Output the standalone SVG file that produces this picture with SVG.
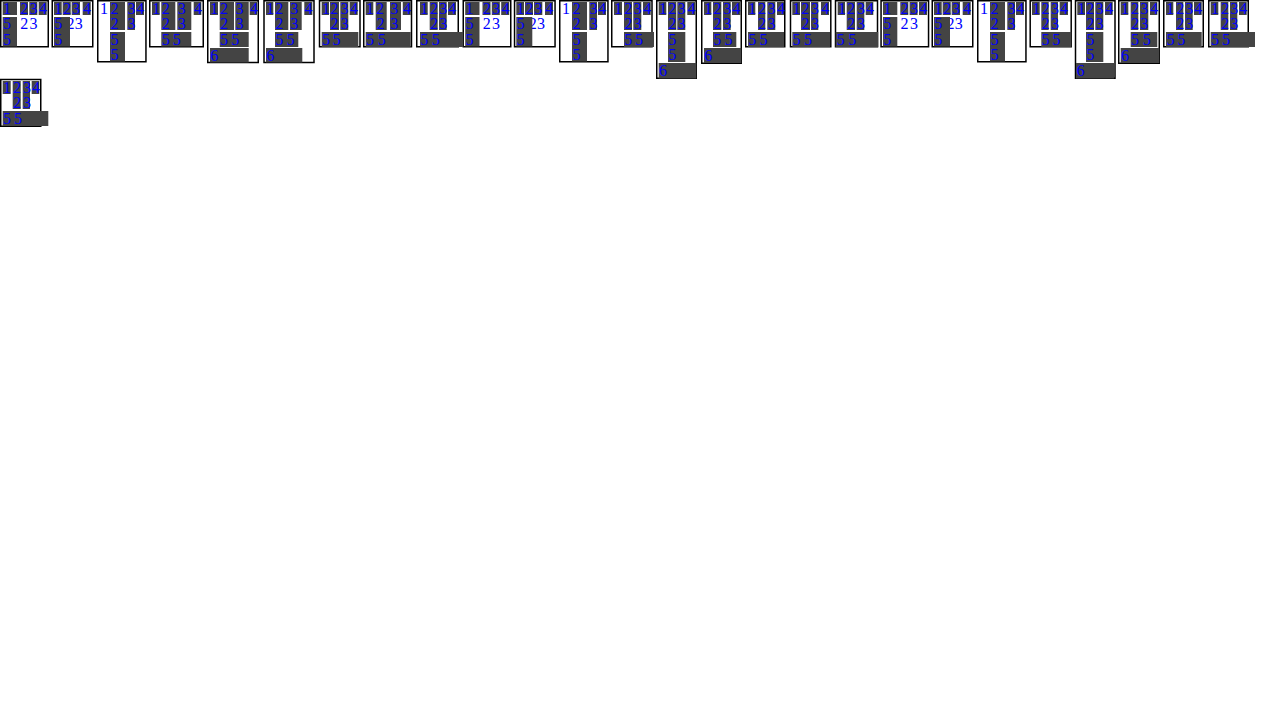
<svg xmlns="http://www.w3.org/2000/svg" width="1280" height="720" viewBox="0 0 1280 720">
<style>
.c{fill:#444}
.b{fill:none;stroke:#000;stroke-width:1.5}
text{font-family:"Liberation Serif","Times New Roman",serif;font-size:16px;fill:#00f}
</style>
<rect x="0" y="0" width="1280" height="720" fill="#fff"/>
<defs>
<g id="typeA">
<rect class="b" x="0.75" y="0.75" width="47.5" height="46"/>
<rect class="c" x="2.7" y="2" width="14.3" height="13"/>
<rect class="c" x="20" y="2" width="8" height="13"/>
<rect class="c" x="29.3" y="2" width="8" height="13"/>
<rect class="c" x="38.7" y="2" width="8" height="13"/>
<text x="20.3" y="29">2</text><text x="29.6" y="29">3</text>
<rect class="c" x="2.7" y="17" width="14.3" height="29.5"/>
<text x="3" y="14">1</text><text x="20.3" y="14">2</text><text x="29.6" y="14">3</text><text x="39" y="14">4</text>
<text x="3" y="29">5</text><text x="3" y="44.5">5</text>
</g>
<g id="typeB">
<rect class="b" x="52.25" y="0.75" width="40.5" height="46"/>
<rect class="c" x="54" y="2" width="7.7" height="13"/>
<rect class="c" x="62.7" y="2" width="8" height="13"/>
<rect class="c" x="71.7" y="2" width="8.3" height="13"/>
<rect class="c" x="82.7" y="2" width="8" height="13"/>
<text x="66.5" y="29">2</text><text x="74.8" y="29">3</text>
<rect class="c" x="54" y="17" width="16" height="29.5"/>
<text x="54.3" y="14">1</text><text x="63" y="14">2</text><text x="72" y="14">3</text><text x="83" y="14">4</text>
<text x="54.3" y="29">5</text><text x="54.3" y="44.5">5</text>
</g>
<g id="typeC">
<rect class="b" x="97.75" y="0.75" width="48.2" height="61"/>
<text x="100" y="14">1</text>
<rect class="c" x="110" y="2" width="15" height="28"/>
<rect class="c" x="110" y="32" width="15" height="29.5"/>
<rect class="c" x="127.3" y="2" width="7.7" height="28"/>
<rect class="c" x="136" y="2" width="8" height="13"/>
<text x="110.4" y="14">2</text><text x="110.4" y="29">2</text>
<text x="110.4" y="44.5">5</text><text x="110.4" y="60">5</text>
<text x="127.6" y="14">3</text><text x="127.6" y="29">3</text>
<text x="136.3" y="14">4</text>
</g>
</defs>

<g id="n1"><use href="#typeA"/></g>
<g id="n2"><use href="#typeB"/></g>
<g id="n3"><use href="#typeC"/></g>

<g id="n4">
<rect class="b" x="149.75" y="0.75" width="53.5" height="46"/>
<rect class="c" x="152" y="2" width="7.7" height="13"/>
<rect class="c" x="161.3" y="2" width="14" height="28"/>
<rect class="c" x="177.3" y="2" width="14" height="28"/>
<rect class="c" x="193.7" y="2" width="7.6" height="13"/>
<rect class="c" x="161.3" y="32" width="30" height="14.5"/>
<text x="152.3" y="14">1</text><text x="161.7" y="14">2</text><text x="161.7" y="29">2</text>
<text x="177.8" y="14">3</text><text x="177.8" y="29">3</text><text x="194" y="14">4</text>
<text x="161.7" y="44.5">5</text><text x="172.8" y="44.5">5</text>
</g>

<g id="n5">
<rect class="b" x="207.75" y="0.75" width="50.5" height="61.75"/>
<rect class="c" x="210" y="2" width="8" height="13"/>
<rect class="c" x="219.7" y="2" width="14.3" height="28"/>
<rect class="c" x="235.3" y="2" width="13.4" height="28"/>
<rect class="c" x="249.7" y="2" width="7.3" height="13"/>
<rect class="c" x="219.7" y="32" width="29" height="15"/>
<rect class="c" x="210" y="48" width="38.7" height="14.5"/>
<text x="210.3" y="14">1</text><text x="220" y="14">2</text><text x="220" y="29">2</text>
<text x="235.6" y="14">3</text><text x="235.6" y="29">3</text><text x="250" y="14">4</text>
<text x="220" y="44.5">5</text><text x="231.3" y="44.5">5</text>
<text x="210.3" y="61">6</text>
</g>

<g id="n6">
<rect class="b" x="264" y="0.75" width="50" height="61.75"/>
<rect class="c" x="266" y="2" width="7.3" height="13"/>
<rect class="c" x="275" y="2" width="13.3" height="28"/>
<rect class="c" x="290" y="2" width="11.7" height="28"/>
<rect class="c" x="304.3" y="2" width="8" height="13"/>
<rect class="c" x="275" y="32" width="23.3" height="15"/>
<rect class="c" x="266" y="48" width="36.3" height="14.5"/>
<text x="266.3" y="14">1</text><text x="275.3" y="14">2</text><text x="275.3" y="29">2</text>
<text x="290.3" y="14">3</text><text x="290.3" y="29">3</text><text x="304.6" y="14">4</text>
<text x="275.3" y="44.5">5</text><text x="286.5" y="44.5">5</text>
<text x="266.3" y="61">6</text>
</g>

<g id="n7">
<rect class="b" x="319.5" y="0.75" width="40.5" height="46"/>
<rect class="c" x="321.7" y="2" width="7.3" height="13"/>
<rect class="c" x="330" y="2" width="9" height="28"/>
<rect class="c" x="340.3" y="2" width="8" height="28"/>
<rect class="c" x="349.7" y="2" width="8" height="13"/>
<rect class="c" x="321.7" y="32" width="36.6" height="15"/>
<text x="322" y="14">1</text><text x="330.3" y="14">2</text><text x="330.3" y="29">2</text>
<text x="340.6" y="14">3</text><text x="340.6" y="29">3</text><text x="350" y="14">4</text>
<text x="322" y="44.5">5</text><text x="332.5" y="44.5">5</text>
</g>

<g id="n8">
<rect class="b" x="363.75" y="0.75" width="47.75" height="46"/>
<rect class="c" x="365.7" y="2" width="7.6" height="13"/>
<rect class="c" x="375.7" y="2" width="11" height="28"/>
<rect class="c" x="390" y="2" width="11" height="28"/>
<rect class="c" x="402.8" y="2" width="8" height="13"/>
<rect class="c" x="365.7" y="32" width="45" height="15"/>
<text x="366" y="14">1</text><text x="376" y="14">2</text><text x="376.5" y="29">2</text>
<text x="390.3" y="14">3</text><text x="390.3" y="29">3</text><text x="403" y="14">4</text>
<text x="366" y="44.5">5</text><text x="377.7" y="44.5">5</text>
</g>

<g id="n10"><use href="#typeA" transform="translate(462.5 0)"/></g>

<g id="n9">
<rect class="b" x="416.75" y="0.75" width="41.5" height="46"/>
<rect class="c" x="420" y="2" width="7.7" height="13"/>
<rect class="c" x="429.7" y="2" width="8" height="28"/>
<rect class="c" x="439" y="2" width="7.7" height="28"/>
<rect class="c" x="448" y="2" width="8" height="13"/>
<rect class="c" x="420" y="32" width="43.3" height="15"/>
<text x="420.3" y="14">1</text><text x="430" y="14">2</text><text x="430" y="29">2</text>
<text x="439.3" y="14">3</text><text x="439.3" y="29">3</text><text x="448.3" y="14">4</text>
<text x="420.3" y="44.5">5</text><text x="431.7" y="44.5">5</text>
</g>

<g id="n11"><use href="#typeB" transform="translate(462.3 0)"/></g>
<g id="n12"><use href="#typeC" transform="translate(462 0)"/></g>

<g id="n13">
<rect class="b" x="611.75" y="0.75" width="40.25" height="46"/>
<rect class="c" x="614" y="2" width="8" height="13"/>
<rect class="c" x="624" y="2" width="8" height="28"/>
<rect class="c" x="633.3" y="2" width="8" height="28"/>
<rect class="c" x="643" y="2" width="7.7" height="13"/>
<rect class="c" x="624" y="32" width="30" height="15"/>
<text x="614.3" y="14">1</text><text x="624.3" y="14">2</text><text x="624.3" y="29">2</text>
<text x="633.6" y="14">3</text><text x="633.6" y="29">3</text><text x="643.3" y="14">4</text>
<text x="624.3" y="44.5">5</text><text x="635" y="44.5">5</text>
</g>

<g id="n14">
<rect class="b" x="656.75" y="0.75" width="39.5" height="77.5"/>
<rect class="c" x="658.7" y="2" width="7.6" height="13"/>
<rect class="c" x="668" y="2" width="8.3" height="28"/>
<rect class="c" x="677.3" y="2" width="8" height="28"/>
<rect class="c" x="687.3" y="2" width="8" height="13"/>
<rect class="c" x="668" y="32" width="17.3" height="30"/>
<rect class="c" x="658.7" y="63" width="37.6" height="15.5"/>
<text x="659" y="14">1</text><text x="668.3" y="14">2</text><text x="668.3" y="29">2</text>
<text x="677.6" y="14">3</text><text x="677.6" y="29">3</text><text x="687.6" y="14">4</text>
<text x="668.3" y="44.5">5</text><text x="668.3" y="60">5</text>
<text x="659" y="76">6</text>
</g>

<g id="n15">
<rect class="b" x="701.75" y="0.75" width="39.5" height="62.5"/>
<rect class="c" x="704" y="2" width="7.3" height="13"/>
<rect class="c" x="713" y="2" width="8.3" height="28"/>
<rect class="c" x="723" y="2" width="7.7" height="28"/>
<rect class="c" x="732" y="2" width="8.5" height="13"/>
<rect class="c" x="713" y="32" width="23.3" height="15"/>
<rect class="c" x="704" y="48" width="37.3" height="15"/>
<text x="704.3" y="14">1</text><text x="713.3" y="14">2</text><text x="713.3" y="29">2</text>
<text x="723.3" y="14">3</text><text x="723.3" y="29">3</text><text x="732.3" y="14">4</text>
<text x="713.3" y="44.5">5</text><text x="724.5" y="44.5">5</text>
<text x="704.3" y="61">6</text>
</g>

<g id="n16">
<rect class="b" x="745.75" y="0.75" width="39" height="46"/>
<rect class="c" x="748" y="2" width="7.3" height="13"/>
<rect class="c" x="758" y="2" width="7.3" height="28"/>
<rect class="c" x="767.3" y="2" width="8" height="28"/>
<rect class="c" x="777" y="2" width="7" height="13"/>
<rect class="c" x="748" y="32" width="36" height="15"/>
<text x="748.3" y="14">1</text><text x="758.1" y="14">2</text><text x="758.1" y="29">2</text>
<text x="767.6" y="14">3</text><text x="767.6" y="29">3</text><text x="777" y="14">4</text>
<text x="748.3" y="44.5">5</text><text x="759.5" y="44.5">5</text>
</g>

<g id="n17">
<rect class="b" x="790.5" y="0.75" width="40.3" height="46"/>
<rect class="c" x="792.3" y="2" width="7.7" height="13"/>
<rect class="c" x="801" y="2" width="9" height="28"/>
<rect class="c" x="811" y="2" width="7.3" height="28"/>
<rect class="c" x="821" y="2" width="8" height="13"/>
<rect class="c" x="792.3" y="32" width="37.7" height="15"/>
<text x="792.6" y="14">1</text><text x="801.3" y="14">2</text><text x="801.3" y="29">2</text>
<text x="811" y="14">3</text><text x="811" y="29">3</text><text x="821.3" y="14">4</text>
<text x="792.6" y="44.5">5</text><text x="804" y="44.5">5</text>
</g>

<g id="n18">
<rect class="b" x="835.5" y="0.75" width="42" height="46"/>
<rect class="c" x="837.7" y="2" width="7.3" height="13"/>
<rect class="c" x="846.7" y="2" width="8.3" height="28"/>
<rect class="c" x="856.7" y="2" width="7.6" height="28"/>
<rect class="c" x="865.7" y="2" width="7.6" height="13"/>
<rect class="c" x="835.7" y="32" width="42.5" height="15"/>
<text x="838" y="14">1</text><text x="847" y="14">2</text><text x="847" y="29">2</text>
<text x="857" y="14">3</text><text x="857" y="29">3</text><text x="866" y="14">4</text>
<text x="836.5" y="44.5">5</text><text x="848.3" y="44.5">5</text>
</g>

<g id="n19"><use href="#typeA" transform="translate(880.3 0)"/></g>
<g id="n20"><use href="#typeB" transform="translate(880 0)"/></g>
<g id="n21"><use href="#typeC" transform="translate(880 0)"/></g>

<g id="n22">
<rect class="b" x="1030.2" y="0.75" width="41" height="46"/>
<rect class="c" x="1032" y="2" width="7.7" height="13"/>
<rect class="c" x="1041.3" y="2" width="7.4" height="28"/>
<rect class="c" x="1050.7" y="2" width="7.3" height="28"/>
<rect class="c" x="1059.7" y="2" width="8.3" height="13"/>
<rect class="c" x="1041.3" y="32" width="30" height="15"/>
<text x="1032.3" y="14">1</text><text x="1041.5" y="14">2</text><text x="1041.5" y="29">2</text>
<text x="1050.9" y="14">3</text><text x="1050.9" y="29">3</text><text x="1060" y="14">4</text>
<text x="1041.6" y="44.5">5</text><text x="1052.3" y="44.5">5</text>
</g>

<g id="n23">
<rect class="b" x="1075.5" y="0.75" width="39.5" height="77.5"/>
<rect class="c" x="1077.3" y="2" width="7.7" height="13"/>
<rect class="c" x="1086" y="2" width="8" height="28"/>
<rect class="c" x="1095.3" y="2" width="8" height="28"/>
<rect class="c" x="1105" y="2" width="7.7" height="13"/>
<rect class="c" x="1086" y="32" width="17.3" height="30"/>
<rect class="c" x="1076" y="63" width="38" height="15.5"/>
<text x="1077.6" y="14">1</text><text x="1086.3" y="14">2</text><text x="1086.3" y="29">2</text>
<text x="1095.6" y="14">3</text><text x="1095.6" y="29">3</text><text x="1105.3" y="14">4</text>
<text x="1086.3" y="44.5">5</text><text x="1086.3" y="60">5</text>
<text x="1076.5" y="76">6</text>
</g>

<g id="n24">
<rect class="b" x="1118.75" y="0.75" width="40.5" height="62.5"/>
<rect class="c" x="1120.7" y="2" width="7.6" height="13"/>
<rect class="c" x="1130.7" y="2" width="7.6" height="28"/>
<rect class="c" x="1140" y="2" width="8.3" height="28"/>
<rect class="c" x="1150" y="2" width="7.3" height="13"/>
<rect class="c" x="1130.7" y="32" width="26.6" height="15"/>
<rect class="c" x="1120.7" y="48" width="38.6" height="15"/>
<text x="1121" y="14">1</text><text x="1131" y="14">2</text><text x="1131" y="29">2</text>
<text x="1140.3" y="14">3</text><text x="1140.3" y="29">3</text><text x="1150.3" y="14">4</text>
<text x="1131" y="44.5">5</text><text x="1142.7" y="44.5">5</text>
<text x="1121" y="61">6</text>
</g>

<g id="n25">
<rect class="b" x="1163.75" y="0.75" width="39.5" height="46"/>
<rect class="c" x="1166" y="2" width="7.3" height="13"/>
<rect class="c" x="1176" y="2" width="7.3" height="28"/>
<rect class="c" x="1185" y="2" width="7.7" height="28"/>
<rect class="c" x="1194" y="2" width="7.7" height="13"/>
<rect class="c" x="1166" y="32" width="35.7" height="15"/>
<text x="1166.3" y="14">1</text><text x="1176.2" y="14">2</text><text x="1176.2" y="29">2</text>
<text x="1185.3" y="14">3</text><text x="1185.3" y="29">3</text><text x="1194.3" y="14">4</text>
<text x="1166.6" y="44.5">5</text><text x="1177.3" y="44.5">5</text>
</g>

<g id="n26">
<rect class="b" x="1208.75" y="0.75" width="39.5" height="46"/>
<rect class="c" x="1210.7" y="2" width="7.6" height="13"/>
<rect class="c" x="1220.7" y="2" width="7.6" height="28"/>
<rect class="c" x="1230" y="2" width="7.3" height="28"/>
<rect class="c" x="1239" y="2" width="7.7" height="13"/>
<rect class="c" x="1210.7" y="32" width="44.3" height="15"/>
<text x="1211" y="14">1</text><text x="1221" y="14">2</text><text x="1221" y="29">2</text>
<text x="1230.3" y="14">3</text><text x="1230.3" y="29">3</text><text x="1239.3" y="14">4</text>
<text x="1211" y="44.5">5</text><text x="1222" y="44.5">5</text>
</g>

<g id="n27">
<rect class="b" x="0.75" y="79.5" width="40" height="46.75"/>
<rect class="c" x="2.7" y="81" width="8" height="13"/>
<rect class="c" x="12.7" y="81" width="8" height="28"/>
<rect class="c" x="22.7" y="81" width="7.3" height="28"/>
<rect class="c" x="31.7" y="81" width="7.6" height="13"/>
<rect class="c" x="2.7" y="111" width="45.6" height="15"/>
<text x="3" y="93">1</text><text x="13" y="93">2</text><text x="13" y="108">2</text>
<text x="23" y="93">3</text><text x="23" y="108">3</text><text x="32" y="93">4</text>
<text x="3" y="123.5">5</text><text x="14" y="123.5">5</text>
</g>
</svg>
